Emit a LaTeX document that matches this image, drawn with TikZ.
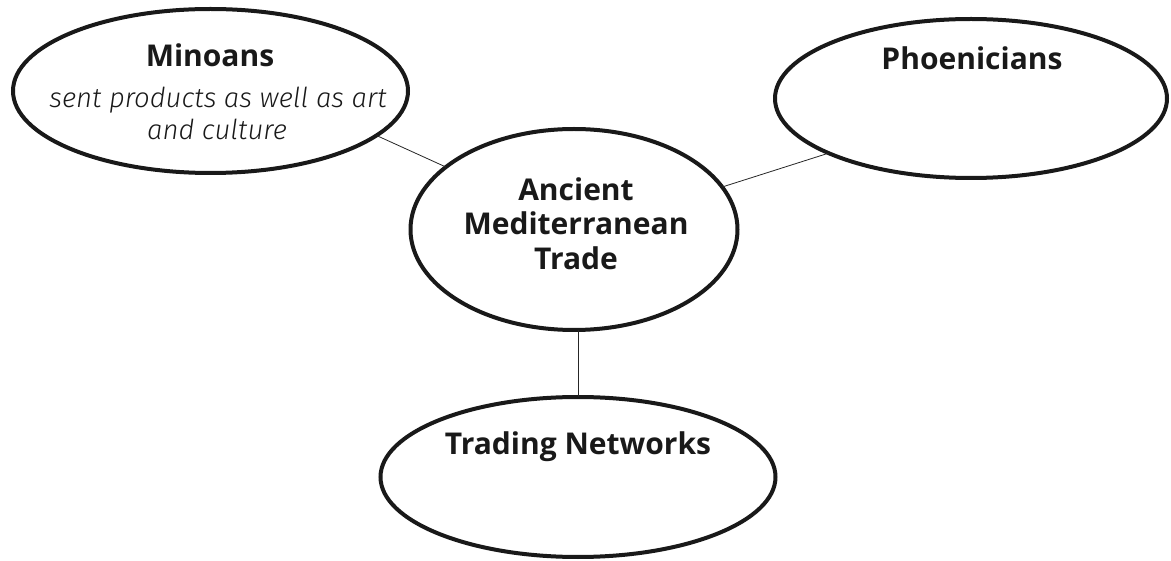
\documentclass[tikz,border=0pt]{standalone}
\usepackage{fontspec}
\setmainfont{Open Sans}
\newfontfamily\handfont{Fira Sans Light Italic}
\usetikzlibrary{shapes.geometric}
\begin{document}
\begin{tikzpicture}[x=1pt,y=-1pt,
  bubble/.style={draw=black!90,line width=4pt,ellipse,inner sep=0pt,outer sep=0pt},
  link/.style={draw=black!85,line width=0.8pt},
  title/.style={anchor=base,font=\fontsize{30}{34}\selectfont\bfseries,text=black!90,inner sep=0pt},
  hand/.style={anchor=base,font=\fontsize{27.5}{31}\handfont,text=black!90,inner sep=0pt}]
\useasboundingbox (0,0) rectangle (1171,561);
\node[bubble,minimum width=395pt,minimum height=164pt] (min) at (210.5,91) {};
\node[bubble,minimum width=392pt,minimum height=159pt] (pho) at (971,98.5) {};
\node[bubble,minimum width=327pt,minimum height=201pt] (ctr) at (574,229.5) {};
\node[bubble,minimum width=395pt,minimum height=160pt] (trd) at (578,477) {};
\node[title] (tmin) at (210,67) {Minoans};
\node[hand] (h1) at (218,108) {sent products as well as art};
\node[hand] (h2) at (217,140) {and culture};
\node[title] (tpho) at (972,70) {Phoenicians};
\node[title] (t1) at (576,201) {Ancient};
\node[title] (t2) at (576,235) {Mediterranean};
\node[title] (t3) at (576,270) {Trade};
\node[title] (ttrd) at (578,454) {Trading Networks};
\draw[link] (ctr.154) -- (min.-15);
\draw[link] (ctr.16.7) -- (pho.201);
\coordinate (vb) at (ctr.south -| trd.north);
\draw[link] (vb) -- (trd.north);
\end{tikzpicture}
\end{document}
